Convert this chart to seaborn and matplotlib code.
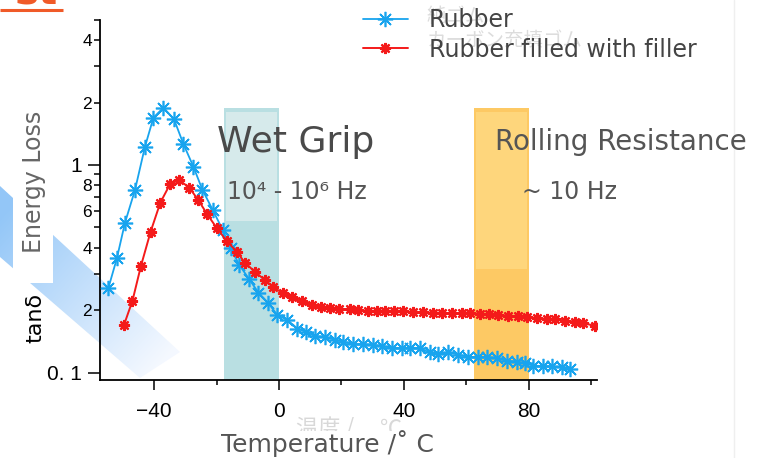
import numpy as np
import matplotlib
matplotlib.use("Agg")
import matplotlib.pyplot as plt
import seaborn as sns
from matplotlib.patches import Rectangle, Polygon
from matplotlib.lines import Line2D

# ---- data: loss tangent (tan delta) against temperature ----
rubber_temp = [-54.6, -51.9, -49.3, -46.1, -42.9, -40.2, -37.0, -33.6, -30.6, -27.4,
               -24.5, -21.2, -18.0, -15.5, -12.7, -9.5, -6.6, -3.4, -0.5, 2.7,
               5.9, 8.6, 11.5, 14.7, 17.9, 20.6, 23.8, 27.0, 30.2, 32.9,
               36.1, 39.3, 41.9, 45.1, 48.3, 51.0, 54.2, 57.4, 60.6, 63.8,
               66.7, 69.7, 72.9, 76.1, 78.7, 81.4, 84.6, 87.3, 90.5, 93.1]
rubber_tan = [0.256, 0.355, 0.527, 0.758, 1.225, 1.690, 1.888, 1.660, 1.262, 0.981,
              0.758, 0.607, 0.486, 0.397, 0.330, 0.281, 0.243, 0.216, 0.189, 0.179,
              0.163, 0.157, 0.150, 0.148, 0.144, 0.141, 0.137, 0.137, 0.136, 0.134,
              0.132, 0.131, 0.132, 0.131, 0.125, 0.123, 0.125, 0.122, 0.119, 0.119,
              0.119, 0.117, 0.114, 0.113, 0.111, 0.108, 0.107, 0.107, 0.106, 0.104]

filled_temp = [-49.6, -46.9, -44.2, -41.1, -38.0, -34.9, -32.0, -28.7, -25.8, -23.1,
               -19.9, -16.7, -13.5, -10.9, -7.7, -4.5, -1.8, 1.2, 4.1, 7.3,
               10.5, 13.5, 16.3, 19.3, 22.7, 25.4, 28.6, 31.3, 33.9, 36.8,
               39.8, 43.0, 46.2, 49.2, 52.1, 55.3, 58.5, 61.1, 64.3, 67.3,
               70.2, 73.4, 76.6, 79.3, 82.5, 85.7, 88.3, 91.5, 94.7, 97.4, 101.1]
filled_tan = [0.170, 0.222, 0.326, 0.477, 0.658, 0.807, 0.847, 0.778, 0.676, 0.583,
              0.496, 0.430, 0.382, 0.338, 0.306, 0.279, 0.258, 0.241, 0.231, 0.220,
              0.212, 0.208, 0.204, 0.2025, 0.2025, 0.200, 0.198, 0.198, 0.198, 0.198,
              0.198, 0.195, 0.195, 0.194, 0.194, 0.193, 0.193, 0.193, 0.192, 0.191,
              0.189, 0.188, 0.187, 0.185, 0.183, 0.181, 0.181, 0.178, 0.176, 0.173, 0.168]

series_names = ["Rubber", "Rubber filled with filler"]

# temperature windows standing for the two tyre properties
band_names = ["Wet Grip", "Rolling Resistance"]
band_freqs = ["10\u2074 - 10\u2076 Hz", "~ 10 Hz"]
band_ranges = [(-17.6, 0.1), (62.4, 80.1)]

x_major = [-40, 0, 40, 80]
x_minor = [-20, 20, 60, 100]
x_major_labels = ["\u221240", "0", "40", "80"]
y_major = [0.1, 1]
y_major_labels = ["0. 1", "1"]
y_minor = [0.2, 0.3, 0.4, 0.5, 0.6, 0.7, 0.8, 0.9, 2, 3, 4, 5]
y_minor_labels = ["2", "", "4", "", "6", "", "8", "", "2", "", "4", ""]

# ---- styling ----
sns.set_style("white")
plt.rcParams["font.family"] = ["DejaVu Sans", "Noto Sans CJK JP"]

W, H = 769, 458
BLUE = "#18a4ee"
RED = "#f41a1a"
TEAL_DARK, TEAL_LIGHT = "#b9dfe2", "#d6eaeb"
ORANGE_DARK, ORANGE_LIGHT = "#fdc964", "#fed67c"


def fx(px):
    return px / W


def fy(py):
    return 1 - py / H


fig = plt.figure(figsize=(W / 100, H / 100), dpi=100)
fig.patch.set_facecolor("white")

# background layer in pixel coordinates
bg = fig.add_axes([0, 0, 1, 1], zorder=0)
bg.set_xlim(0, W)
bg.set_ylim(H, 0)
bg.axis("off")

# soft blue diagonal arrow behind the y label
gx, gy = np.meshgrid(np.linspace(0, 200, 200), np.linspace(170, 400, 230))
t = np.clip((gx * 0.743 + (gy - 220) * 0.669) / 216.0, 0, 1)
c0 = np.array([0.58, 0.78, 0.97])
c1 = np.array([0.96, 0.975, 1.0])
img = c0[None, None, :] + (c1 - c0)[None, None, :] * t[..., None]
im = bg.imshow(img, extent=(0, 200, 400, 170), origin="upper", aspect="auto", zorder=1)
arrow = Polygon([(0, 186), (180, 352), (140, 378), (0, 257)], closed=True,
                transform=bg.transData, facecolor="none", edgecolor="none")
bg.add_patch(arrow)
im.set_clip_path(arrow)
bg.add_patch(Rectangle((13, 150), 40, 133, facecolor="white", edgecolor="none", zorder=2))

# header fragment
bg.text(15, 4, "st", color="#f05a28", fontsize=29, fontweight="bold", va="baseline", ha="left")
bg.plot([0, 63], [9.5, 9.5], color="#f05a28", lw=2.2, solid_capstyle="butt")
bg.plot([734, 734], [0, H], color="#efefef", lw=1)

# faint Japanese captions underneath
bg.text(427, 16, "純ゴム", color="#dcdcdc", fontsize=14, va="center", ha="left",
        family=["Noto Sans CJK JP"])
bg.text(427, 41, "カーボン充填ゴム", color="#dcdcdc", fontsize=14, va="center", ha="left",
        family=["Noto Sans CJK JP"])
bg.text(296, 429, "温度 /", color="#d8d8d8", fontsize=16, va="center", ha="left",
        family=["Noto Sans CJK JP"])
bg.text(380, 429, "℃", color="#d8d8d8", fontsize=16, va="center", ha="left",
        family=["Noto Sans CJK JP"])

# ---- main chart ----
ax = fig.add_axes([fx(100), fy(380), fx(597) - fx(100), fy(19.9) - fy(380)], zorder=2)
ax.patch.set_alpha(0)
ax.set_yscale("log")
ax.set_xlim(-57.3, 101.8)
ax.set_ylim(0.0921, 5.0)

band_top = 1.88
band_split = [0.537, 0.3155]
for (x0, x1), dark, light, split in zip(band_ranges, [TEAL_DARK, ORANGE_DARK],
                                        [TEAL_LIGHT, ORANGE_LIGHT], band_split):
    ax.add_patch(Rectangle((x0, 0.0921), x1 - x0, band_top - 0.0921,
                           facecolor=dark, edgecolor="none", zorder=1))
    ax.add_patch(Rectangle((x0 + 0.6, split), x1 - x0 - 1.2, 1.806 - split,
                           facecolor=light, edgecolor="none", zorder=1.1))

sns.lineplot(x=rubber_temp, y=rubber_tan, ax=ax, color=BLUE, lw=1.3,
             marker=(8, 2, 0), markersize=11, markeredgecolor=BLUE,
             markeredgewidth=1.2, zorder=3, legend=False)
sns.lineplot(x=filled_temp, y=filled_tan, ax=ax, color=RED, lw=1.4,
             marker=(8, 2, 0), markersize=8, markeredgecolor=RED,
             markeredgewidth=1.6, zorder=4, legend=False)

ax.set_xticks(x_major, x_major_labels, fontsize=15, family=["Liberation Sans"])
ax.set_xticks(x_minor, minor=True)
ax.set_yticks(y_major, y_major_labels, fontsize=15, family=["Liberation Sans"])
ax.set_yticks(y_minor, y_minor_labels, minor=True, fontsize=12.5, family=["Liberation Sans"])
ax.tick_params(axis="x", which="both", bottom=True, top=False, colors="black")
ax.tick_params(axis="y", which="both", left=True, right=False, colors="black")
ax.tick_params(axis="x", which="major", length=7.2, width=1.1, direction="out", pad=8.5)
ax.tick_params(axis="x", which="minor", length=3.6, width=1.1, direction="out")
ax.tick_params(axis="y", which="major", length=8.6, width=1.1, direction="out", pad=4.3)
ax.tick_params(axis="y", which="minor", length=4.3, width=1.1, direction="out", pad=1.4)
for side in ["top", "right"]:
    ax.spines[side].set_visible(False)
for side in ["left", "bottom"]:
    ax.spines[side].set_color("black")
    ax.spines[side].set_linewidth(1.3)
ax.set_xlabel("")
ax.set_ylabel("")

# band captions
ax.text(fx(217), fy(142), band_names[0], transform=fig.transFigure, fontsize=26,
        color="#4a4a4a", va="center", ha="left", zorder=5)
ax.text(fx(495), fy(142), band_names[1], transform=fig.transFigure, fontsize=20,
        color="#555555", va="center", ha="left", zorder=5)
ax.text(fx(227), fy(192), band_freqs[0], transform=fig.transFigure, fontsize=17,
        color="#555555", va="center", ha="left", zorder=5)
ax.text(fx(522), fy(192), band_freqs[1], transform=fig.transFigure, fontsize=17,
        color="#555555", va="center", ha="left", zorder=5)

# axis titles
fig.text(fx(34), fy(182), "Energy Loss", rotation=90, fontsize=17, color="#666666",
         va="center", ha="center", zorder=5)
fig.text(fx(35), fy(318), "tan\u03b4", rotation=90, fontsize=16, color="black",
         va="center", ha="center", zorder=5)
fig.text(fx(327), fy(444), "Temperature /\u02da C", fontsize=18, color="#555555",
         va="center", ha="center", zorder=5,
         bbox=dict(facecolor="white", edgecolor="none", pad=0.0))

# legend
handles = [
    Line2D([], [], color=BLUE, lw=1.3, marker=(8, 2, 0), markersize=11,
           markeredgecolor=BLUE, markeredgewidth=1.2),
    Line2D([], [], color=RED, lw=1.4, marker=(8, 2, 0), markersize=8,
           markeredgecolor=RED, markeredgewidth=1.6),
]
ax.legend(handles, series_names, loc="upper left", bbox_to_anchor=(fx(363), fy(8)),
          bbox_transform=fig.transFigure, frameon=False, fontsize=17,
          handlelength=1.9, handletextpad=0.9, labelspacing=0.24,
          borderpad=0, borderaxespad=0, labelcolor="#444444")

fig.savefig("out.png", dpi=100, facecolor="white")
